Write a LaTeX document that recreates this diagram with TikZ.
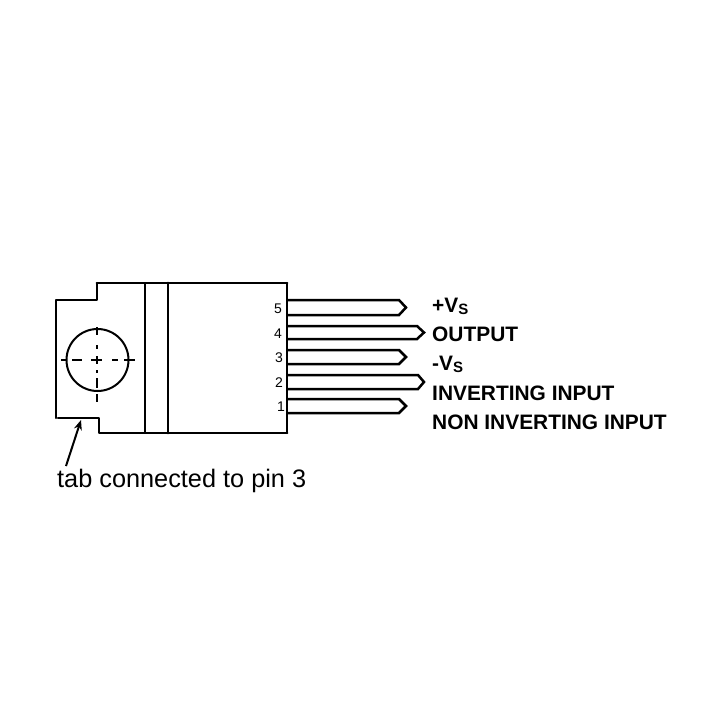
\documentclass[tikz,border=0pt]{standalone}
\usepackage{fontspec}
\setmainfont{Liberation Sans}
\usetikzlibrary{arrows.meta}
\newcommand{\subS}{\raisebox{-2.5pt}{\fontsize{15}{16}\selectfont S}}
\tikzset{
  body/.style={line width=2.8pt,line join=round,line cap=round},
  sidebody/.style={line width=2.2pt,line join=round,line cap=round},
  thinbody/.style={line width=2pt},
  pin/.style={line width=2.5pt,line join=miter},
  center line/.style={line width=2.2pt},
  pinnum/.style={inner sep=0pt,font=\fontsize{14}{16}\selectfont},
  signal/.style={inner sep=0pt,anchor=base west,font=\fontsize{20.9}{24}\bfseries\selectfont},
  note/.style={inner sep=0pt,anchor=base west,font=\fontsize{25.3}{28}\selectfont}
}
\begin{document}
\begin{tikzpicture}[x=1pt,y=-1pt]
\useasboundingbox (0,0) rectangle (720,720);
\fill[white] (0,0) rectangle (720,720);
% body
\draw[sidebody] (56,418) -- (56,300) -- (97,300) -- (97,283);
\draw[body] (97,283) -- (287,283);
\draw[sidebody] (287,283) -- (287,433);
\draw[body] (287,433) -- (99,433) -- (99,418) -- (58,418);
\draw[thinbody] (145,283) -- (145,433);
\draw[body] (168,283) -- (168,433);
% hole
\draw[thinbody] (97.5,360) circle (31);
\foreach \a/\b in {61/67,72/82,91/102,112/118,124/135}{
  \draw[center line] (\a,360) -- (\b,360);
}
\foreach \a/\b in {327/335,345/349,356/364,370/373,378/388,394/402}{
  \draw[center line] (97,\a) -- (97,\b);
}
% pins
\foreach \t/\b/\s/\e in {300/315/399/406,326/339/417/424,350/364/399/406,375/389/418/424,399/413/399/406}{
  \draw[pin] (287,\t) -- (\s,\t) -- (\e,{(\t+\b)/2}) -- (\s,\b) -- (287,\b);
}
% pin numbers
\node[pinnum] (n5) at (278,309) {5};
\node[pinnum] (n4) at (278,334) {4};
\node[pinnum] (n3) at (279,358) {3};
\node[pinnum] (n2) at (279,383) {2};
\node[pinnum] (n1) at (281,407) {1};
% signals
\node[signal] (s5) at (432,312) {+V\subS};
\node[signal] (s4) at (432,341) {OUTPUT};
\node[signal] (s3) at (432,370) {-V\subS};
\node[signal] (s2) at (432,400) {INVERTING INPUT};
\node[signal] (s1) at (432,429) {NON INVERTING INPUT};
% note
\node[note] (tab) at (57,487) {tab connected to pin 3};
\coordinate (tip) at (81,420);
\coordinate (tail) at (66,466);
\draw[line width=2pt,-{Stealth[length=10pt,width=8pt]}] (tail) -- (tip);
\end{tikzpicture}
\end{document}
